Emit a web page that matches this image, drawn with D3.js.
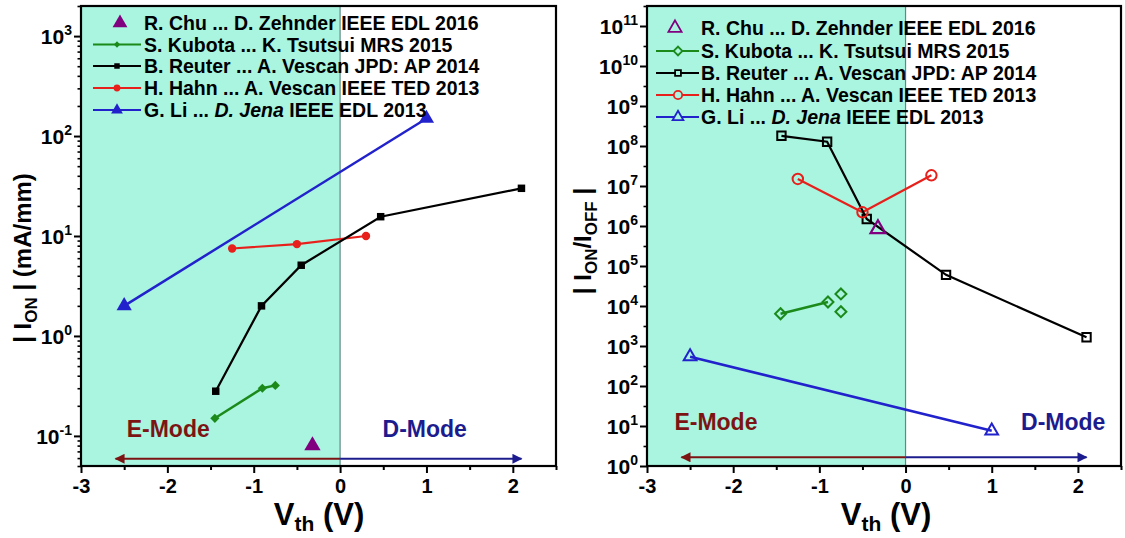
<!DOCTYPE html>
<html>
<head>
<meta charset="utf-8">
<script src="https://cdn.jsdelivr.net/npm/d3@7"></script>
<style>
  html, body { margin: 0; padding: 0; background: #fff; }
  svg { display: block; }
  svg text { font-family: "Liberation Sans", Arial, sans-serif; font-weight: 700; }
</style>
</head>
<body>
<svg id="chart" width="1125" height="538"></svg>
<script>
// ---- data: threshold voltage (V), on-current (mA/mm), on/off ratio ----
const seriesNames = [
  "R. Chu ... D. Zehnder IEEE EDL 2016",
  "S. Kubota ... K. Tsutsui MRS 2015",
  "B. Reuter ... A. Vescan JPD: AP 2014",
  "H. Hahn ... A. Vescan IEEE TED 2013",
  "G. Li ... D. Jena IEEE EDL 2013"
];
const chuVth = [-0.32];
const chuIon = [0.08];
const chuRatio = [8.5e5];

const kubotaVth = [-1.45, -0.9, -0.75];
const kubotaIon = [0.15, 0.30, 0.32];
const kubotaRatioVth = [-1.45, -0.9];
const kubotaRatio = [6400, 12600];
const kubotaExtraVth = [-0.75, -0.75];
const kubotaExtraRatio = [20000, 7200];

const reuterVth = [-1.44, -0.91, -0.45, 0.47, 2.1];
const reuterIon = [0.28, 2.0, 5.1, 15.6, 30];
const reuterRatio = [1.8e8, 1.28e8, 1.5e6, 6.0e4, 1650];

const hahnVth = [-1.25, -0.5, 0.3];
const hahnIon = [7.5, 8.3, 10];
const hahnRatio = [1.5e7, 2.2e6, 1.85e7];

const liVth = [-2.5, 1.0];
const liIon = [2, 150];
const liRatio = [540, 7.6];

const xTicks = [-3, -2, -1, 0, 1, 2];
const ionTicks = [0.1, 1, 10, 100, 1000];
const ratioTicks = d3.range(0, 12).map(e => Math.pow(10, e));
const modeLabels = ["E-Mode", "D-Mode"];

// ---- styling ----
const C = {
  purple: "#800080", green: "#1b8a1b", black: "#000000",
  red: "#e8201c", blue: "#2222cc",
  shade: "#a9f5df", zero: "#5f8a84",
  eMode: "#7d1414", dMode: "#1c1c8e"
};
const FONT = "Liberation Sans, Arial, sans-serif";

const svg = d3.select("#chart");
const defs = svg.append("defs");
[["arrE", C.eMode], ["arrD", C.dMode]].forEach(([id, col]) => {
  defs.append("marker").attr("id", id).attr("viewBox", "0 0 10 10")
    .attr("refX", 9).attr("refY", 5).attr("markerWidth", 6).attr("markerHeight", 5)
    .attr("markerUnits", "strokeWidth").attr("orient", "auto")
    .append("path").attr("d", "M0,0 L10,5 L0,10 z").attr("fill", col);
});

function pair(xs, ys) { return xs.map((x, i) => [x, ys[i]]); }

function supLabel(sel, exp) {
  sel.text("10");
  sel.append("tspan").attr("dy", -9).attr("font-size", 14).text(exp);
}

function drawPanel(opt) {
  const { x, y, yTickVals, yMinor, expOf } = opt;
  const g = svg.append("g");
  const [x0, x1] = x.range();
  const [yb, yt] = y.range();

  // enhancement-mode region shading
  g.append("rect")
    .attr("x", x(-3)).attr("y", yt)
    .attr("width", x(0) - x(-3)).attr("height", yb - yt)
    .attr("fill", C.shade);
  g.append("line")
    .attr("x1", x(0)).attr("x2", x(0)).attr("y1", yt).attr("y2", yb)
    .attr("stroke", C.zero).attr("stroke-width", 1.2);

  // axes
  const xMinor = d3.range(-2.5, 2.6, 1);
  g.append("g").attr("transform", `translate(0,${yb})`)
    .call(d3.axisBottom(x).tickValues(xMinor).tickSize(4).tickFormat(""))
    .call(a => a.select(".domain").remove())
    .selectAll("line").attr("stroke-width", 2);
  const xa = g.append("g").attr("transform", `translate(0,${yb})`)
    .call(d3.axisBottom(x).tickValues(xTicks).tickSize(7).tickPadding(6).tickFormat(d3.format("d")));
  xa.select(".domain").remove();
  xa.selectAll("line").attr("stroke-width", 2);
  xa.selectAll("text").attr("font-size", 20).attr("font-weight", 700)
    .attr("font-family", FONT).attr("fill", "#000")
    .text(d => d < 0 ? "-" + Math.abs(d) : d);

  g.append("g").attr("transform", `translate(${x0},0)`)
    .call(d3.axisLeft(y).tickValues(yMinor).tickSize(3.5).tickFormat(""))
    .call(a => a.select(".domain").remove())
    .selectAll("line").attr("stroke-width", 1.6);
  const ya = g.append("g").attr("transform", `translate(${x0},0)`)
    .call(d3.axisLeft(y).tickValues(yTickVals).tickSize(7).tickPadding(5).tickFormat(""));
  ya.select(".domain").remove();
  ya.selectAll("line").attr("stroke-width", 2);
  ya.selectAll(".tick").append("text")
    .attr("x", -9).attr("dy", "0.36em").attr("text-anchor", "end")
    .attr("font-size", 21).attr("font-weight", 700).attr("font-family", FONT).attr("fill", "#000")
    .each(function (d) { supLabel(d3.select(this), expOf(d)); });

  // frame
  g.append("rect")
    .attr("x", x0).attr("y", yt).attr("width", x1 - x0).attr("height", yb - yt)
    .attr("fill", "none").attr("stroke", "#000").attr("stroke-width", 2.2);
  return g;
}

function marker(g, type, pts, x, y, size, color, filled, sw, rot) {
  g.selectAll(null).data(pts).enter().append("path")
    .attr("d", d3.symbol().type(type).size(size))
    .attr("transform", d => `translate(${x(d[0])},${y(d[1])}) rotate(${rot || 0})`)
    .attr("fill", filled ? color : "none")
    .attr("stroke", color).attr("stroke-width", filled ? 0 : sw);
}
function line(g, pts, x, y, color, w) {
  g.append("path").datum(pts)
    .attr("d", d3.line().x(d => x(d[0])).y(d => y(d[1])))
    .attr("fill", "none").attr("stroke", color).attr("stroke-width", w);
}

function modeArrows(g, x, yv, y) {
  g.append("line").attr("x1", x(0)).attr("x2", x(-2.6)).attr("y1", y(yv)).attr("y2", y(yv))
    .attr("stroke", C.eMode).attr("stroke-width", 2).attr("marker-end", "url(#arrE)");
  g.append("line").attr("x1", x(0)).attr("x2", x(2.1)).attr("y1", y(yv)).attr("y2", y(yv))
    .attr("stroke", C.dMode).attr("stroke-width", 2).attr("marker-end", "url(#arrD)");
}

function modeText(g, x, xv, yPix, txt, col) {
  g.append("text").attr("x", x(xv)).attr("y", yPix).attr("text-anchor", "middle")
    .attr("font-size", 23).attr("fill", col).text(txt);
}

// legend: line from lx0 to lx1, marker at mx, text starting at tx
function legend(g, pos, ys, items) {
  items.forEach((it, i) => {
    const yy = ys[i];
    if (it.line) g.append("line").attr("x1", pos.lx0).attr("x2", pos.lx1)
      .attr("y1", yy).attr("y2", yy).attr("stroke", it.color).attr("stroke-width", 2.2);
    g.append("path").attr("d", d3.symbol().type(it.type).size(it.size))
      .attr("transform", `translate(${pos.mx + (it.dx || 0)},${yy}) rotate(${it.rot || 0})`)
      .attr("fill", it.filled ? it.color : (it.line ? C.shade : "none"))
      .attr("stroke", it.color).attr("stroke-width", it.filled ? 0 : 1.8);
    const t = g.append("text").attr("x", pos.tx).attr("y", yy).attr("dy", "0.36em")
      .attr("font-size", 19.5).attr("fill", "#000");
    const name = seriesNames[i];
    if (name.includes("D. Jena")) {
      const [a, b] = name.split("D. Jena");
      t.append("tspan").text(a);
      t.append("tspan").attr("font-style", "italic").text("D. Jena");
      t.append("tspan").text(b);
    } else t.text(name);
  });
}

function xTitle(g, cx) {
  const xt = g.append("text").attr("x", cx).attr("y", 525).attr("text-anchor", "middle")
    .attr("font-size", 31).attr("fill", "#000");
  xt.append("tspan").text("V");
  xt.append("tspan").attr("font-size", 21).attr("dy", 6).text("th");
  xt.append("tspan").attr("dy", -6).text(" (V)");
}

// ---------------- left panel: |I_ON| ----------------
{
  const x = d3.scaleLinear().domain([-3, 2.5]).range([81, 556]);
  const y = d3.scaleLog().domain([0.05, 2000]).range([466, 6]);
  const minor = [];
  for (let e = -2; e <= 3; e++) for (let m = 2; m <= 9; m++) {
    const v = m * Math.pow(10, e);
    if (v >= 0.05 && v <= 2000) minor.push(v);
  }
  const g = drawPanel({ x, y, yTickVals: ionTicks, yMinor: minor,
    expOf: d => String(Math.round(Math.log10(d))) });

  modeText(g, x, -1.99, 437, modeLabels[0], C.eMode);
  modeText(g, x, 0.98, 437, modeLabels[1], C.dMode);
  modeArrows(g, x, 0.059, y);

  line(g, pair(liVth, liIon), x, y, C.blue, 2.5);
  line(g, pair(hahnVth, hahnIon), x, y, C.red, 2.2);
  line(g, pair(reuterVth, reuterIon), x, y, C.black, 2.2);
  line(g, pair(kubotaVth, kubotaIon), x, y, C.green, 2.4);

  marker(g, d3.symbolSquare, pair(reuterVth, reuterIon), x, y, 56, C.black, true);
  marker(g, d3.symbolCircle, pair(hahnVth, hahnIon), x, y, 55, C.red, true);
  marker(g, d3.symbolSquare, pair(kubotaVth, kubotaIon), x, y, 42, C.green, true, 0, 45);
  marker(g, d3.symbolTriangle, pair(liVth, liIon), x, y, 100, C.blue, true);
  marker(g, d3.symbolTriangle, pair(chuVth, chuIon), x, y, 115, C.purple, true);

  legend(g, { lx0: 93, lx1: 141, mx: 117, tx: 144 }, [23, 44.5, 66, 88, 110], [
    { type: d3.symbolTriangle, size: 95, color: C.purple, filled: true, line: false, dx: 3 },
    { type: d3.symbolSquare, size: 20, color: C.green, filled: true, line: true, rot: 45 },
    { type: d3.symbolSquare, size: 30, color: C.black, filled: true, line: true },
    { type: d3.symbolCircle, size: 36, color: C.red, filled: true, line: true },
    { type: d3.symbolTriangle, size: 60, color: C.blue, filled: true, line: true }
  ]);

  xTitle(g, 319);

  const yt = g.append("text").attr("transform", "translate(31,258) rotate(-90)")
    .attr("text-anchor", "middle").attr("font-size", 24).attr("fill", "#000");
  yt.append("tspan").text("| I");
  yt.append("tspan").attr("font-size", 17).attr("dy", 6).text("ON");
  yt.append("tspan").attr("dy", -6).text(" | (mA/mm)");
}

// ---------------- right panel: |I_ON/I_OFF| ----------------
{
  const x = d3.scaleLinear().domain([-3, 2.5]).range([647, 1121]);
  const y = d3.scaleLog().domain([1, Math.pow(10, 11.5)]).range([466, 6]);
  const minor = d3.range(0, 11.5, 1).map(e => Math.pow(10, e + 0.5));
  const g = drawPanel({ x, y, yTickVals: ratioTicks, yMinor: minor,
    expOf: d => String(Math.round(Math.log10(d))) });

  modeText(g, x, -2.2, 430, modeLabels[0], C.eMode);
  modeText(g, x, 1.83, 430, modeLabels[1], C.dMode);
  modeArrows(g, x, 1.65, y);

  line(g, pair(liVth, liRatio), x, y, C.blue, 2.5);
  line(g, pair(hahnVth, hahnRatio), x, y, C.red, 2.2);
  line(g, pair(reuterVth, reuterRatio), x, y, C.black, 2.2);
  line(g, pair(kubotaRatioVth, kubotaRatio), x, y, C.green, 2.4);

  marker(g, d3.symbolSquare, pair(reuterVth, reuterRatio), x, y, 70, C.black, false, 2);
  marker(g, d3.symbolCircle, pair(hahnVth, hahnRatio), x, y, 85, C.red, false, 2);
  marker(g, d3.symbolSquare, pair(kubotaRatioVth, kubotaRatio), x, y, 60, C.green, false, 2, 45);
  marker(g, d3.symbolSquare, pair(kubotaExtraVth, kubotaExtraRatio), x, y, 60, C.green, false, 2, 45);
  marker(g, d3.symbolTriangle, pair(liVth, liRatio), x, y, 70, C.blue, false, 2);
  marker(g, d3.symbolTriangle, pair(chuVth, chuRatio), x, y, 95, C.purple, false, 2.2);

  legend(g, { lx0: 656, lx1: 699, mx: 678, tx: 701 }, [28, 51, 73, 95, 117], [
    { type: d3.symbolTriangle, size: 75, color: C.purple, filled: false, line: false, dx: -3 },
    { type: d3.symbolSquare, size: 38, color: C.green, filled: false, line: true, rot: 45 },
    { type: d3.symbolSquare, size: 34, color: C.black, filled: false, line: true },
    { type: d3.symbolCircle, size: 55, color: C.red, filled: false, line: true },
    { type: d3.symbolTriangle, size: 50, color: C.blue, filled: false, line: true }
  ]);

  xTitle(g, 886);

  const yt = g.append("text").attr("transform", "translate(591,241) rotate(-90)")
    .attr("text-anchor", "middle").attr("font-size", 24).attr("fill", "#000");
  yt.append("tspan").text("| I");
  yt.append("tspan").attr("font-size", 17).attr("dy", 6).text("ON");
  yt.append("tspan").attr("dy", -6).text("/I");
  yt.append("tspan").attr("font-size", 17).attr("dy", 6).text("OFF");
  yt.append("tspan").attr("dy", -6).text(" |");
}
</script>
</body>
</html>
